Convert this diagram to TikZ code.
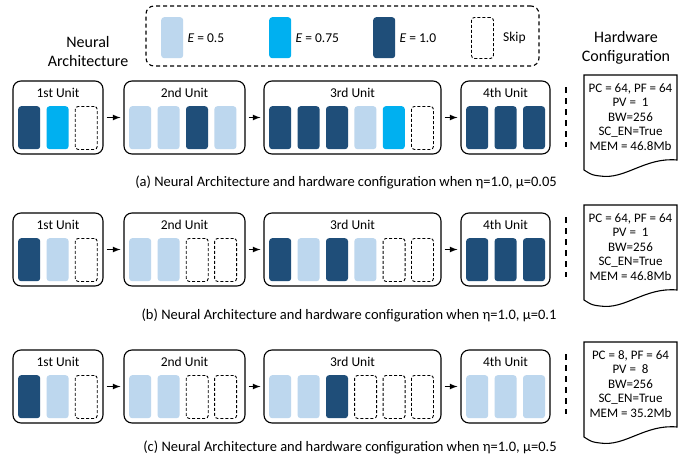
\documentclass[tikz,border=0pt]{standalone}
\usepackage{fontspec}
\setmainfont{Carlito}
\usetikzlibrary{positioning,calc}
\definecolor{lightE}{HTML}{BDD7EE}
\definecolor{midE}{HTML}{00B0F0}
\definecolor{darkE}{HTML}{1F4E79}
\tikzset{%
	unitbox/.style  = {draw, line width=1.1pt, rounded corners=8pt, minimum height=73pt, inner sep=0pt},
	unitlabel/.style= {inner sep=0pt, font=\fontsize{13.5}{15}\selectfont},
	bar/.style      = {rounded corners=3pt, minimum width=22pt, minimum height=43pt, inner sep=0pt, anchor=north west},
	lbar/.style     = {bar, fill=lightE},
	cbar/.style     = {bar, fill=midE},
	dbar/.style     = {bar, fill=darkE},
	sbar/.style     = {bar, draw, line width=0.9pt, dash pattern=on 3pt off 2pt},
	arrow/.style    = {line width=1.6pt, -latex, shorten <=3pt, shorten >=3pt},
	hwtext/.style   = {align=center, inner sep=0pt, font=\fontsize{13}{14.5}\selectfont},
	title/.style    = {align=center, inner sep=0pt, font=\fontsize{16}{19.5}\selectfont},
	caption/.style  = {inner sep=0pt, font=\fontsize{14.5}{16}\selectfont},
}
% one unit: name, left, top, width, label, bars
\newcommand{\archunit}[6]{%
	\node[unitbox, minimum width=#4pt] (#1) at ({#2+#4/2},{#3+36.5}) {};
	\node[unitlabel] (#1-t) at ({#2+#4/2},{#3+12}) {#5};
	\foreach \s [count=\i from 0] in {#6} \node[\s] (#1-\i) at ({#2+5+28.4*\i},{#3+25}) {};
}
% hardware configuration sheet: name, top, text
\newcommand{\hwconfig}[3]{%
	\node[hwtext] (#1) at (630.5,{#2+42}) {#3};
	\draw[line width=1.1pt] (584,#2) -- (677,#2) -- (677,{#2+85}) .. controls (645,{#2+82}) and (625,{#2+105}) .. (600,{#2+101}) .. controls (592,{#2+100}) .. (584,{#2+95}) -- cycle;
	\draw[line width=1.3pt, dash pattern=on 6pt off 5pt] (566,{#2+12}) -- (566,{#2+72});
}

\begin{document}
\begin{tikzpicture}[x=1pt,y=-1pt]
	\useasboundingbox[fill=white] (0,0) rectangle (685,458);
	
	% legend
	\node[draw, line width=1.1pt, dash pattern=on 4pt off 3pt, rounded corners=8pt, minimum width=393pt, minimum height=60pt] (legend) at (342.5,36) {};
	\node[lbar, minimum height=41pt] (key-l) at (161,17) {};
	\node[cbar, minimum height=41pt] (key-c) at (269,17) {};
	\node[dbar, minimum height=41pt] (key-d) at (373,17) {};
	\node[sbar, minimum height=41pt] (key-s) at (471,17) {};
	\node[unitlabel, right=4pt of key-l] {\textit{E} = 0.5};
	\node[unitlabel, right=4pt of key-c] {\textit{E} = 0.75};
	\node[unitlabel, right=4pt of key-d] {\textit{E} = 1.0};
	\node[unitlabel, right=9pt of key-s] {Skip};
	
	\node[title] (na) at (88,51.5) {Neural\\Architecture};
	\node[title] (hc) at (626,48) {Hardware\\Configuration};
	
	% (a)
	\archunit{a1}{13}{81}{90}{1st Unit}{dbar,cbar,sbar}
	\archunit{a2}{124}{81}{121}{2nd Unit}{lbar,lbar,dbar,lbar}
	\archunit{a3}{264}{81}{177}{3rd Unit}{dbar,dbar,dbar,lbar,cbar,sbar}
	\archunit{a4}{461}{81}{89}{4th Unit}{dbar,dbar,dbar}
	\draw[arrow] (a1) -- (a2);
	\draw[arrow] (a2) -- (a3);
	\draw[arrow] (a3) -- (a4);
	\hwconfig{hwa}{75}{PC = 64, PF = 64\\PV = ~1\\BW=256\\SC\_EN=True\\MEM = 46.8Mb}
	\node[caption] (capa) at (346,182) {(a) Neural Architecture and hardware configuration when η=1.0, μ=0.05};
	
	% (b)
	\archunit{b1}{13}{213}{90}{1st Unit}{dbar,lbar,sbar}
	\archunit{b2}{124}{213}{121}{2nd Unit}{lbar,lbar,sbar,sbar}
	\archunit{b3}{264}{213}{177}{3rd Unit}{dbar,lbar,dbar,lbar,sbar,sbar}
	\archunit{b4}{461}{213}{89}{4th Unit}{dbar,dbar,dbar}
	\draw[arrow] (b1) -- (b2);
	\draw[arrow] (b2) -- (b3);
	\draw[arrow] (b3) -- (b4);
	\hwconfig{hwb}{205}{PC = 64, PF = 64\\PV = ~1\\BW=256\\SC\_EN=True\\MEM = 46.8Mb}
	\node[caption] (capb) at (349,315) {(b) Neural Architecture and hardware configuration when η=1.0, μ=0.1};
	
	% (c)
	\archunit{c1}{13}{350}{90}{1st Unit}{dbar,lbar,sbar}
	\archunit{c2}{124}{350}{121}{2nd Unit}{lbar,lbar,sbar,sbar}
	\archunit{c3}{264}{350}{177}{3rd Unit}{lbar,lbar,dbar,sbar,sbar,sbar}
	\archunit{c4}{461}{350}{89}{4th Unit}{lbar,lbar,lbar}
	\draw[arrow] (c1) -- (c2);
	\draw[arrow] (c2) -- (c3);
	\draw[arrow] (c3) -- (c4);
	\hwconfig{hwc}{342}{PC = 8, PF = 64\\PV = ~8\\BW=256\\SC\_EN=True\\MEM = 35.2Mb}
	\node[caption] (capc) at (350,447) {(c) Neural Architecture and hardware configuration when η=1.0, μ=0.5};
\end{tikzpicture}
\end{document}
